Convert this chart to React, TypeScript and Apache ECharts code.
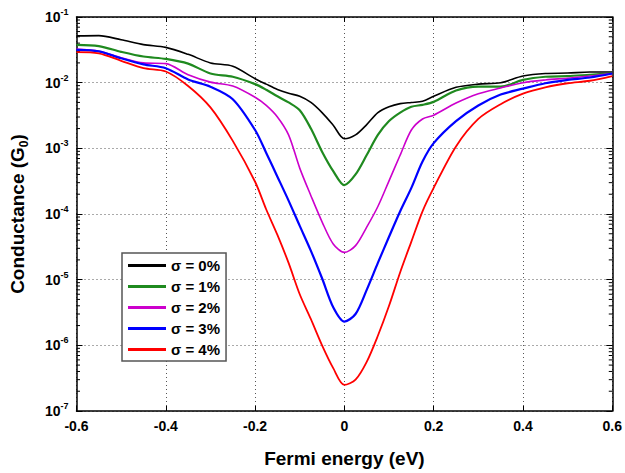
import React, { useEffect, useRef } from "react";
import * as echarts from "echarts";

const energies = [
  -0.6, -0.55, -0.5, -0.45, -0.4, -0.35, -0.3, -0.25, -0.2, -0.175, -0.15, -0.125, -0.1, -0.075, -0.05, -0.025,
  0, 0.025, 0.05, 0.075, 0.1, 0.125, 0.15, 0.175, 0.2, 0.25, 0.3, 0.35, 0.4, 0.45, 0.5, 0.55, 0.6,
];

const sigma0 = [
  5.15e-2, 5.2e-2, 4.5e-2, 3.8e-2, 3.45e-2, 2.7e-2, 2.0e-2, 1.78e-2, 1.15e-2, 9.5e-3, 7.9e-3, 6.9e-3, 6.2e-3, 5.0e-3, 3.5e-3, 2.25e-3,
  1.4e-3, 1.6e-3, 2.3e-3, 3.5e-3, 4.3e-3, 4.8e-3, 5.0e-3, 5.2e-3, 6.2e-3, 8.5e-3, 9.5e-3, 1.0e-2, 1.26e-2, 1.38e-2, 1.4e-2, 1.45e-2, 1.45e-2,
];
const sigma1 = [
  3.77e-2, 3.6e-2, 2.95e-2, 2.5e-2, 2.3e-2, 1.95e-2, 1.38e-2, 1.23e-2, 9.5e-3, 7.8e-3, 6.2e-3, 5.0e-3, 3.8e-3, 2.0e-3, 8.9e-4, 4.5e-4,
  2.75e-4, 4.0e-4, 7.9e-4, 1.6e-3, 2.6e-3, 3.5e-3, 4.3e-3, 4.6e-3, 5.1e-3, 7.6e-3, 8.7e-3, 8.7e-3, 1.1e-2, 1.23e-2, 1.26e-2, 1.32e-2, 1.38e-2,
];
const sigma2 = [
  3.24e-2, 3.0e-2, 2.4e-2, 2.0e-2, 1.95e-2, 1.32e-2, 1.02e-2, 8.9e-3, 6.0e-3, 4.5e-3, 3.0e-3, 1.6e-3, 5.0e-4, 1.9e-4, 7.6e-5, 3.5e-5,
  2.6e-5, 3.3e-5, 6.3e-5, 1.3e-4, 3.2e-4, 7.9e-4, 1.9e-3, 2.8e-3, 3.2e-3, 4.9e-3, 6.8e-3, 8.3e-3, 1.0e-2, 1.1e-2, 1.17e-2, 1.26e-2, 1.38e-2,
];
const sigma3 = [
  3.16e-2, 3.0e-2, 2.35e-2, 1.9e-2, 1.66e-2, 1.12e-2, 8.7e-3, 5.6e-3, 1.9e-3, 8.5e-4, 3.7e-4, 1.6e-4, 6.6e-5, 2.75e-5, 1.05e-5, 3.8e-6,
  2.3e-6, 3.0e-6, 7.0e-6, 1.8e-5, 4.5e-5, 1.1e-4, 2.5e-4, 6.3e-4, 1.2e-3, 2.6e-3, 4.5e-3, 6.6e-3, 8.1e-3, 9.8e-3, 1.1e-2, 1.2e-2, 1.38e-2,
];
const sigma4 = [
  2.92e-2, 2.8e-2, 2.15e-2, 1.66e-2, 1.48e-2, 8.9e-3, 4.2e-3, 1.3e-3, 3.1e-4, 1.17e-4, 4.8e-5, 1.8e-5, 6.0e-6, 2.5e-6, 1.0e-6, 4.5e-7,
  2.5e-7, 3.0e-7, 5.6e-7, 1.4e-6, 4.0e-6, 1.3e-5, 3.8e-5, 1.1e-4, 2.5e-4, 1.07e-3, 2.8e-3, 4.7e-3, 6.8e-3, 8.5e-3, 9.8e-3, 1.07e-2, 1.26e-2,
];

const seriesNames = ["σ = 0%", "σ = 1%", "σ = 2%", "σ = 3%", "σ = 4%"];
const seriesColors = ["#000000", "#1f8a1f", "#cc00cc", "#0000ff", "#ff0000"];
const seriesWidths = [1.6, 2.2, 1.6, 2.2, 1.8];
const minorMultipliers = [2, 3, 4, 5, 6, 7, 8, 9];
const decades = [-7, -6, -5, -4, -3, -2];

const FONT = "'Liberation Sans', Arial, sans-serif";

export default function App() {
  const ref = useRef<HTMLDivElement>(null);
  useEffect(() => {
    if (!ref.current) return;
    const chart = echarts.init(ref.current, undefined, { renderer: "svg" });
    const allSeries = [sigma0, sigma1, sigma2, sigma3, sigma4];
    const minorVals: number[] = [];
    decades.forEach((d) => minorMultipliers.forEach((m) => minorVals.push(m * Math.pow(10, d))));

    const lineSeries = allSeries.map((vals, i) => ({
      name: seriesNames[i],
      type: "line",
      data: energies.map((x, j) => [x, vals[j]]),
      symbol: "none",
      smooth: 0.3,
      lineStyle: { color: seriesColors[i], width: seriesWidths[i] },
      itemStyle: { color: seriesColors[i] },
      z: 3 + i,
    }));

    const option: any = {
      animation: false,
      backgroundColor: "#ffffff",
      grid: { left: 75.5, right: 12, top: 17, bottom: 61, show: false },
      legend: {
        data: seriesNames.map((n, i) => ({ name: n, icon: "rect", itemStyle: { color: seriesColors[i] } })),
        orient: "vertical",
        left: 122,
        top: 253,
        itemWidth: 38,
        itemHeight: 3,
        itemGap: 4,
        padding: [4, 6, 3, 6],
        backgroundColor: "#ffffff",
        borderColor: "#555555",
        borderWidth: 1.5,
        textStyle: { fontFamily: FONT, fontWeight: "bold", fontSize: 15, color: "#000", lineHeight: 17 },
        z: 10,
      },
      xAxis: [
        {
          type: "value",
          min: -0.6,
          max: 0.6,
          interval: 0.2,
          axisLine: { show: true, onZero: false, lineStyle: { color: "#000", width: 1.5 } },
          axisTick: { show: true, inside: true, length: 5, lineStyle: { color: "#000" } },
          axisLabel: {
            fontFamily: FONT,
            fontWeight: "bold",
            fontSize: 14,
            color: "#000",
            margin: 8,
            formatter: (v: number) => {
              const r = Math.round(v * 10) / 10;
              return r === 0 ? "0" : r.toFixed(1);
            },
          },
          splitLine: { show: true, lineStyle: { color: "#555", type: [1, 3], width: 1 } },
          name: "Fermi energy (eV)",
          nameLocation: "middle",
          nameGap: 38,
          nameTextStyle: { fontFamily: FONT, fontWeight: "bold", fontSize: 19, color: "#000" },
        },
        {
          type: "value",
          position: "top",
          min: -0.6,
          max: 0.6,
          interval: 0.2,
          axisLine: { show: true, onZero: false, lineStyle: { color: "#000", width: 1.5 } },
          axisTick: { show: true, inside: true, length: 5, lineStyle: { color: "#000" } },
          axisLabel: { show: false },
          splitLine: { show: false },
        },
      ],
      yAxis: [
        {
          type: "log",
          logBase: 10,
          min: 1e-7,
          max: 1e-1,
          axisLine: { show: true, onZero: false, lineStyle: { color: "#000", width: 1.5 } },
          axisTick: { show: true, inside: true, length: 6, lineStyle: { color: "#000" } },
          axisLabel: {
            margin: 8,
            formatter: (v: number) => `{b|10}{s|${Math.round(Math.log10(v))}}`,
            rich: {
              b: { fontFamily: FONT, fontWeight: "bold", fontSize: 14, color: "#000" },
              s: { fontFamily: FONT, fontWeight: "bold", fontSize: 9, color: "#000", verticalAlign: "bottom", padding: [0, 0, 10, 0] },
            },
          },
          splitLine: { show: true, lineStyle: { color: "#555", type: [1, 3], width: 1 } },
          name: "{a|Conductance (G}{s|0}{a|)}",
          nameLocation: "middle",
          nameGap: 47,
          nameTextStyle: {
            rich: {
              a: { fontFamily: FONT, fontWeight: "bold", fontSize: 19, color: "#000" },
              s: { fontFamily: FONT, fontWeight: "bold", fontSize: 12, color: "#000", padding: [12, 0, 0, 0] },
            },
          },
        },
        {
          type: "log",
          logBase: 10,
          min: 1e-7,
          max: 1e-1,
          position: "right",
          axisLine: { show: true, onZero: false, lineStyle: { color: "#000", width: 1.5 } },
          axisTick: { show: true, inside: true, length: 6, lineStyle: { color: "#000" } },
          axisLabel: { show: false },
          splitLine: { show: false },
        },
      ],
      series: [
        ...lineSeries,
        {
          type: "custom",
          name: "minorTicks",
          data: minorVals.map((v) => [v]),
          clip: false,
          silent: true,
          z: 2,
          renderItem: (params: any, api: any) => {
            const v = api.value(0);
            const l = api.coord([-0.6, v]);
            const r = api.coord([0.6, v]);
            const style = { stroke: "#000", lineWidth: 1 };
            return {
              type: "group",
              children: [
                { type: "line", shape: { x1: l[0], y1: l[1], x2: l[0] + 3.5, y2: l[1] }, style },
                { type: "line", shape: { x1: r[0], y1: r[1], x2: r[0] - 3.5, y2: r[1] }, style },
              ],
            };
          },
        },
      ],
    };
    chart.setOption(option);
    return () => chart.dispose();
  }, []);
  return (
    <div
      ref={ref}
      style={{ position: "fixed", left: 0, top: 0, width: 625, height: 473, background: "#fff" }}
    />
  );
}
